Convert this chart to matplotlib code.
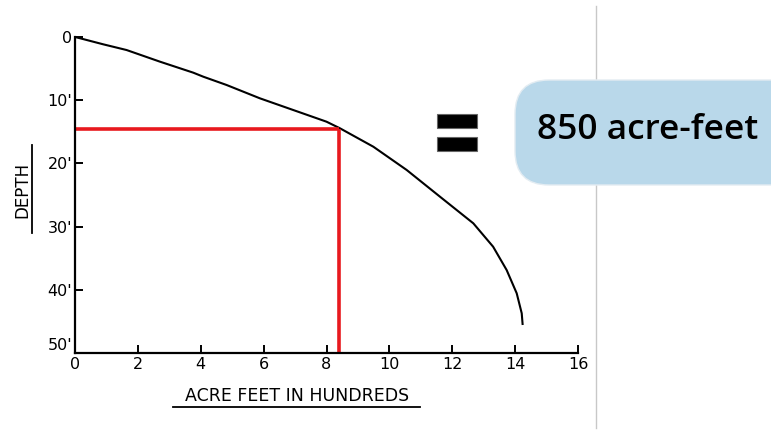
import matplotlib
matplotlib.use("Agg")
import matplotlib.pyplot as plt
from matplotlib.patches import FancyBboxPatch, Rectangle
from matplotlib.lines import Line2D
from matplotlib.transforms import IdentityTransform

# ---- data ----
acre_feet_hundreds = [0.0, 0.16, 0.90, 1.64, 2.70, 3.76, 4.08, 4.82, 5.88, 6.94, 8.0,
                      8.43, 9.49, 10.55, 11.61, 12.67, 13.30, 13.73, 14.05,
                      14.21, 14.24]
depth_ft = [0.0, 0.2, 1.16, 2.06, 3.9, 5.64, 6.28, 7.59, 9.70, 11.55, 13.4,
            14.45, 17.36, 21.04, 25.27, 29.48, 33.18, 36.87, 40.55,
            43.72, 45.57]
x_ticks = [0, 2, 4, 6, 8, 10, 12, 14, 16]
x_tick_labels = ["0", "2", "4", "6", "8", "10", "12", "14", "16"]
y_ticks = [0, 10, 20, 30, 40, 50]
y_tick_labels = ["0", "10'", "20'", "30'", "40'", "50'"]
read_depth = 14.5
read_volume = 8.4
answer_text = "850 acre-feet"

W, H = 771, 430
fig = plt.figure(figsize=(W / 100, H / 100), dpi=100)
fig.patch.set_facecolor("white")

ax = fig.add_axes([75 / W, 1 - 353 / H, (578 - 75) / W, (353 - 37) / H])
ax.set_xlim(0, 16)
ax.set_ylim(50, 0)
ax.patch.set_alpha(0)
for s in ("top", "right"):
    ax.spines[s].set_visible(False)
for s in ("left", "bottom"):
    ax.spines[s].set_linewidth(1.6)
    ax.spines[s].set_color("black")

ax.plot(acre_feet_hundreds, depth_ft, color="black", lw=1.5,
        solid_capstyle="butt", solid_joinstyle="round")

# red reading lines
ax.plot([0, read_volume], [read_depth, read_depth], color="#e8191e", lw=2.6,
        solid_capstyle="butt", clip_on=False)
ax.plot([read_volume, read_volume], [read_depth, 50], color="#e8191e", lw=2.6,
        solid_capstyle="butt", clip_on=False)

hand = "DejaVu Sans"
ax.set_xticks(x_ticks)
ax.set_xticklabels(x_tick_labels, fontsize=11.5, family=hand)
ax.set_yticks(y_ticks)
ax.set_yticklabels(y_tick_labels, fontsize=11.5, family=hand)
ax.tick_params(axis="both", direction="in", length=6, width=1.4, colors="black")
ax.tick_params(axis="x", pad=3)
ax.tick_params(axis="y", pad=2)
ax.get_yticklabels()[-1].set_va("bottom")

# axis titles with underlines
fig.text(22 / W, 1 - 190 / H, "DEPTH", rotation=90, ha="center", va="center",
         fontsize=12, family=hand)
fig.add_artist(Line2D([32 / W, 32 / W], [1 - 145 / H, 1 - 233 / H],
                      color="black", lw=1.3, transform=fig.transFigure))
fig.text(297 / W, 1 - 396 / H, "ACRE FEET IN HUNDREDS", ha="center", va="center",
         fontsize=12.5, family=hand)
fig.add_artist(Line2D([173 / W, 420 / W], [1 - 407 / H, 1 - 407 / H],
                      color="black", lw=1.3, transform=fig.transFigure))

# right side decorations (pixel coordinates, origin bottom-left)
fig.add_artist(Line2D([596, 596], [H - 6, H - 428], color="#c8c8c8", lw=1.0,
                      transform=IdentityTransform(), zorder=1))
box = FancyBboxPatch((515, H - 185), 300, 105,
                     boxstyle="round,pad=0,rounding_size=34",
                     transform=IdentityTransform(), facecolor="#b9d8ea",
                     edgecolor="#e3ecf2", lw=1.0, zorder=2)
fig.add_artist(box)
fig.text(648 / W, 1 - 130 / H, answer_text, ha="center", va="center",
         fontsize=25.5, family="Open Sans", fontweight="semibold", color="black",
         zorder=3)

# "equal" shape (two heavy bars, as in the slide)
for top, bottom in ((114, 128), (137, 151)):
    fig.add_artist(Rectangle((437, H - bottom), 40, bottom - top,
                             transform=IdentityTransform(), facecolor="black",
                             edgecolor="#666666", lw=0.8, zorder=3))

fig.savefig("out.png", dpi=100)
